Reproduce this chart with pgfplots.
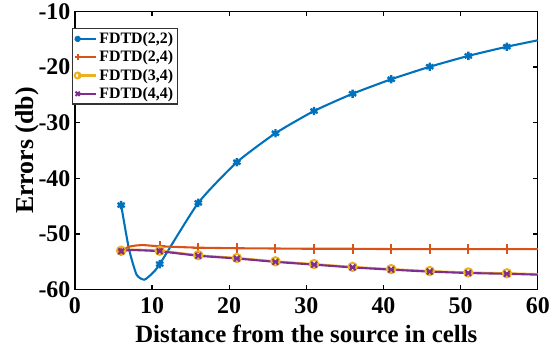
\documentclass[border=0pt]{standalone}
\usepackage{pgfplots}
\pgfplotsset{compat=1.18}
\usepackage{fontspec}
\setmainfont{Liberation Serif}
\definecolor{c1}{HTML}{0072BD}
\definecolor{c2}{HTML}{D95319}
\definecolor{c3}{HTML}{EDB120}
\definecolor{c4}{HTML}{7E2F8E}
\begin{document}
\begin{tikzpicture}
\begin{axis}[
  scale only axis,
  width=464bp, height=279bp,
  xmin=0, xmax=60, ymin=-60, ymax=-10,
  xtick={0,10,...,60}, ytick={-60,-50,...,-10},
  tick align=inside,
  major tick length=5bp,
  axis line style={line width=1.3pt},
  tick style={line width=1.1pt, black},
  /pgf/number format/assume math mode=true,
  tick label style={font=\bfseries\fontsize{24}{24}\selectfont},
  xticklabel style={yshift=-4bp},
  yticklabel style={xshift=-1bp},
  xlabel={Distance from the source in cells},
  ylabel={Errors (db)},
  label style={font=\bfseries\fontsize{25}{25}\selectfont},
  ylabel style={font=\bfseries\fontsize{26}{26}\selectfont},
  xlabel style={yshift=-5bp},
  ylabel style={yshift=-7bp},
  legend style={at={(-0.006,0.94)}, anchor=north west, draw=black!80, line width=1.2pt,
    font=\bfseries\fontsize{16}{16}\selectfont, inner sep=2bp, row sep=1.8bp,
    /tikz/every even column/.append style={column sep=0pt}},
  legend cell align=left,
  legend image code/.code={\draw[mark repeat=2,mark phase=2,#1,mark size=3pt] plot coordinates {(0cm,0cm) (0.33cm,0cm) (0.66cm,0cm)};},
]
\addplot[c1, line width=2.1pt, smooth, tension=0.35, mark=asterisk, mark size=4.2pt,
  mark options={line width=2.4pt}, mark indices={1,6,7,8,9,10,11,12,13,14,15}] coordinates {
(6,-44.8) (7,-52.6) (8,-57.3) (9,-58.2) (10,-57.1) (11,-55.4) (16,-44.4) (21,-37.1) (26,-31.9)
(31,-27.9) (36,-24.8) (41,-22.2) (46,-19.95) (51,-18.0) (56,-16.35) (60,-15.2)};
\addlegendentry{FDTD(2,2)}
\addplot[c2, line width=2.1pt, smooth, tension=0.4, mark=+, mark size=5pt,
  mark options={line width=2pt}, mark indices={1,5,6,7,8,9,10,11,12,13,14}] coordinates {
(6,-53.1) (7,-52.3) (8,-52.05) (9,-52.0) (11,-52.2) (16,-52.45) (21,-52.55) (26,-52.6)
(31,-52.65) (36,-52.65) (41,-52.7) (46,-52.7) (51,-52.7) (56,-52.7) (60,-52.7)};
\addlegendentry{FDTD(2,4)}
\addplot[c3, line width=2.1pt, smooth, tension=0.4, mark=o, mark size=4.2pt,
  mark options={line width=2pt}, mark indices={1,4,5,6,7,8,9,10,11,12,13}] coordinates {
(6,-53.0) (7,-52.8) (8,-52.8) (11,-53.0) (16,-53.8) (21,-54.3) (26,-54.9) (31,-55.4)
(36,-55.9) (41,-56.3) (46,-56.65) (51,-56.9) (56,-57.05) (60,-57.2)};
\addlegendentry{FDTD(3,4)}
\addplot[c4, line width=2.1pt, smooth, tension=0.4, mark=x, mark size=4pt,
  mark options={line width=2pt}, mark indices={1,4,5,6,7,8,9,10,11,12,13}] coordinates {
(6,-53.1) (7,-52.9) (8,-52.9) (11,-53.1) (16,-53.9) (21,-54.4) (26,-55.0) (31,-55.5)
(36,-56.0) (41,-56.4) (46,-56.75) (51,-57.0) (56,-57.15) (60,-57.3)};
\addlegendentry{FDTD(4,4)}
\end{axis}
\draw[draw=none] ([xshift=-12bp]current bounding box.west) -- (current bounding box.west);
\draw[draw=none] ([yshift=-4bp]current bounding box.south) -- (current bounding box.south);
\end{tikzpicture}
\end{document}
